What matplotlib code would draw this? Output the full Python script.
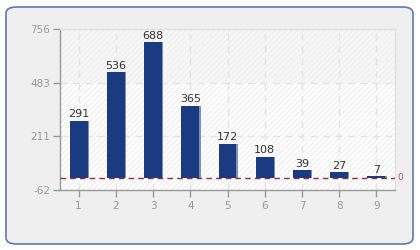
import matplotlib
matplotlib.use("Agg")
import matplotlib.pyplot as plt
from matplotlib.patches import FancyBboxPatch

plt.rcParams["axes.unicode_minus"] = False

categories = [1, 2, 3, 4, 5, 6, 7, 8, 9]
values = [291, 536, 688, 365, 172, 108, 39, 27, 7]
yticks = [-62, 211, 483, 756]
ref_value = 0

fig = plt.figure(figsize=(4.2, 2.5), dpi=100)
fig.patch.set_facecolor("white")

# outer rounded panel
panel = FancyBboxPatch((6/420, 6/250), 407/420, 237/250,
                       boxstyle="round,pad=0,rounding_size=0.025",
                       transform=fig.transFigure, facecolor="#efefef",
                       edgecolor="#6077b3", linewidth=1.2, zorder=-5)
fig.patches.append(panel)

ax = fig.add_axes([60/420, 1-190/250, 335/420, 161/250])
ax.set_zorder(2)
ax.set_facecolor("white")
ax.set_xlim(0.5, 9.5)
ax.set_ylim(yticks[0], yticks[-1])

# light band + hatch background
ax.axhspan(yticks[2], yticks[3], color="#f7f7f7", zorder=0, lw=0)
ax.fill_between([0.5, 9.5], yticks[0], yticks[-1], facecolor="none",
                hatch="//////", edgecolor="#f0f0f0", lw=0, zorder=0.5)

# grid
for t in yticks[1:]:
    ax.axhline(t, color="#e3e3e3", lw=1, ls=(0, (5, 4)), zorder=1)
for c in categories:
    ax.axvline(c, color="#e3e3e3", lw=1, ls=(0, (5, 4)), zorder=1)

# bar shadows then bars
ax.bar([c + 0.035 for c in categories], values, width=0.48, bottom=0,
       color="#8090b8", zorder=2)
ax.bar(categories, values, width=0.48, color="#1a3a82", zorder=3)

for c, v in zip(categories, values):
    ax.text(c, v + 8, str(v), ha="center", va="bottom", fontsize=8,
            color="#333333", zorder=5)

# zero line
ax.axhline(ref_value, color="#8e2f40", lw=1, ls=(0, (4, 3)), zorder=4)
ax.text(1.008, ref_value, "0", transform=ax.get_yaxis_transform(),
        ha="left", va="center", fontsize=6.5, color="#b05060")

ax.set_yticks(yticks)
ax.set_xticks(categories)
ax.tick_params(axis="both", colors="#999999", labelcolor="#999999",
               labelsize=7.5, length=5, width=1)
ax.tick_params(axis="x", pad=3)
ax.tick_params(axis="y", pad=2)
for s in ["left", "bottom"]:
    ax.spines[s].set_color("#999999")
    ax.spines[s].set_linewidth(1)
for s in ["top", "right"]:
    ax.spines[s].set_color("#e0e0e0")
    ax.spines[s].set_linewidth(1)

fig.savefig("out.png", dpi=100, facecolor="white")
